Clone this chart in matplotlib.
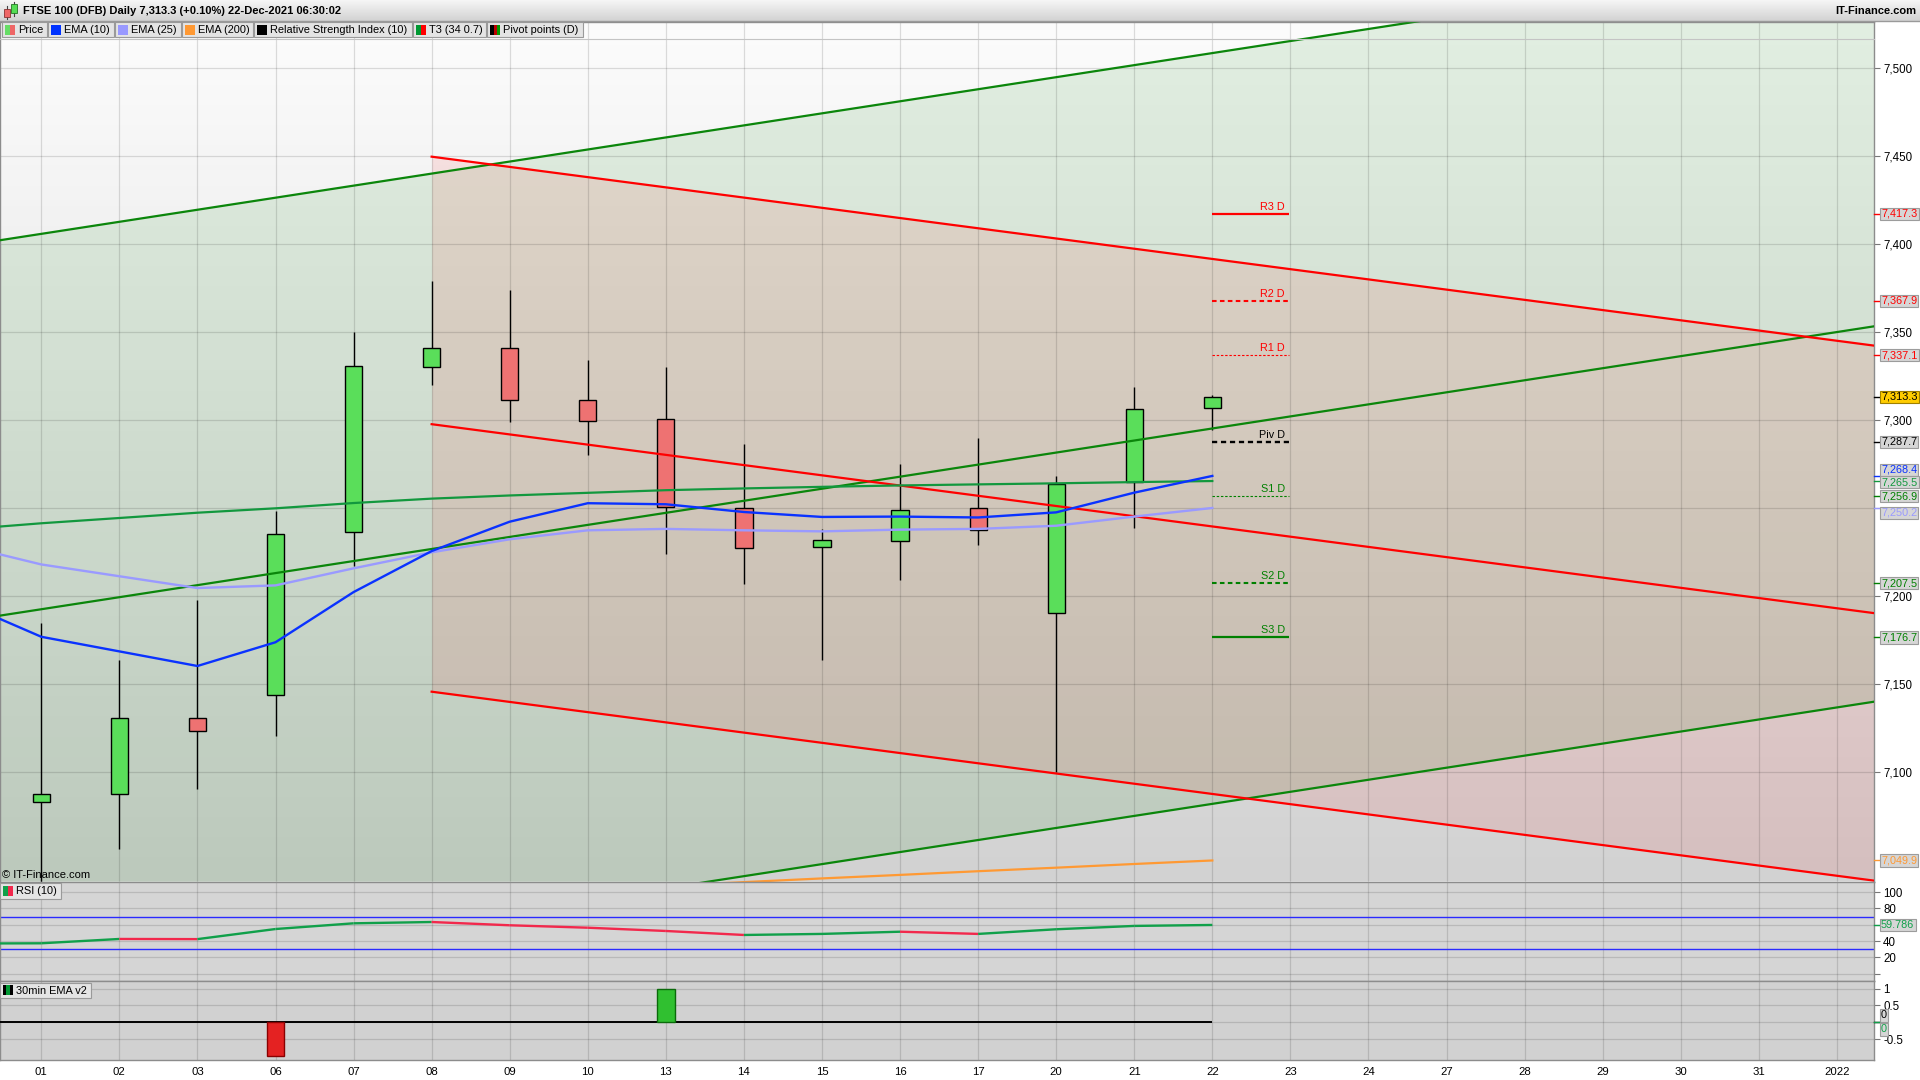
import numpy as np
import matplotlib
matplotlib.use('Agg')
import matplotlib.pyplot as plt
from matplotlib.collections import LineCollection
from matplotlib.patches import Rectangle
from matplotlib.colors import LinearSegmentedColormap

plt.rcParams['font.family'] = ['Liberation Sans', 'DejaVu Sans']

# ---------------- data ----------------
session_labels = ['01', '02', '03', '06', '07', '08', '09', '10', '13', '14',
                  '15', '16', '17', '20', '21', '22']
future_labels = ['23', '24', '27', '28', '29', '30', '31', '2022']

opens = [7083.2, 7087.4, 7130.8, 7143.8, 7236.6, 7330.3, 7341.1, 7311.4,
         7300.7, 7250.1, 7227.9, 7231.3, 7250.0, 7190.4, 7265.0, 7306.8]
highs = [7184.9, 7163.8, 7198.0, 7248.5, 7350.0, 7379.2, 7374.2, 7334.4,
         7330.3, 7286.6, 7238.3, 7275.3, 7290.0, 7268.4, 7318.8, 7314.4]
lows = [7030.0, 7056.2, 7090.6, 7120.4, 7217.5, 7320.3, 7299.2, 7280.5,
        7224.3, 7207.2, 7163.6, 7209.5, 7228.9, 7100.0, 7238.6, 7294.5]
closes = [7087.4, 7130.8, 7123.4, 7235.4, 7330.7, 7341.1, 7311.4, 7299.4,
          7250.7, 7227.3, 7231.8, 7248.9, 7237.5, 7263.9, 7306.3, 7313.3]

# indicator series start one session earlier (30 Nov)
ema10 = [7196.2, 7177.0, 7168.7, 7160.4, 7173.9, 7202.4, 7225.7, 7242.4, 7252.9,
         7252.3, 7247.9, 7245.1, 7245.3, 7244.8, 7247.7, 7258.9, 7268.4]
ema25 = [7228.9, 7218.1, 7211.4, 7204.7, 7206.2, 7215.9, 7225.0, 7232.4, 7237.5,
         7238.3, 7237.5, 7236.9, 7237.9, 7238.3, 7240.1, 7245.3, 7250.2]
t3 = [7238.0, 7241.5, 7244.5, 7247.5, 7250.0, 7253.0, 7255.5, 7257.3, 7258.8,
      7260.3, 7261.3, 7262.2, 7263.0, 7263.6, 7264.2, 7264.9, 7265.5]
rsi = [37.0, 37.3, 42.6, 42.4, 54.8, 61.8, 63.4, 59.4, 56.4, 52.4, 47.5, 48.8,
       51.5, 48.8, 54.5, 58.6, 59.786]
ema200 = [7019.5, 7021.5, 7023.5, 7025.5, 7027.5, 7029.5, 7031.5, 7033.5,
          7035.6, 7037.6, 7039.7, 7041.7, 7043.8, 7045.8, 7047.9, 7049.9]
ema_v2 = [0, 0, 0, -1, 0, 0, 0, 0, 1, 0, 0, 0, 0, 0, 0, 0]

pivot_names = ['R3 D', 'R2 D', 'R1 D', 'Piv D', 'S1 D', 'S2 D', 'S3 D']
pivot_values = [7417.3, 7367.9, 7337.1, 7287.7, 7256.9, 7207.5, 7176.7]

# trend channels (value at start / end session index)
green_x = [-1, 24]
green_upper = [7399.1, 7570.3]
green_mid = [7185.8, 7357.0]
green_lower = [6972.5, 7143.7]
red_x = [5, 24]
red_upper = [7449.8, 7339.4]
red_mid = [7297.8, 7187.4]
red_lower = [7145.8, 7035.4]

rsi_levels = [70, 30]

# ---------------- layout ----------------
W, H = 1920.0, 1080.0
fig = plt.figure(figsize=(19.2, 10.8), dpi=100, facecolor='white')


def rect(x0, y0, x1, y1):
    return [x0 / W, 1 - y1 / H, (x1 - x0) / W, (y1 - y0) / H]


PLOT_R = 1873.5
ax = fig.add_axes(rect(0, 21.7, PLOT_R, 881.5))
ax_rsi = fig.add_axes(rect(0, 881.5, PLOT_R, 980.7))
ax_ema = fig.add_axes(rect(0, 980.7, PLOT_R, 1060.3))

XMIN, XMAX = -0.529, 23.469
MAIN_Y = (7037.95, 7526.5)
RSI_Y = (-8.6, 113.1)
EMA_Y = (-1.128, 1.234)

x_s = np.arange(len(session_labels))
x_ind = np.arange(-1, len(session_labels))
all_labels = session_labels + future_labels
x_all = np.arange(len(all_labels))

GRID = dict(color='black', alpha=0.13, lw=0.9)
TICK_FS = 8.3

# ---------------- main panel ----------------
grad = np.linspace(0, 1, 256).reshape(-1, 1)
bg_cmap = LinearSegmentedColormap.from_list('bg', ['#d2d2d2', '#fcfcfc'])
ax.imshow(grad, extent=[XMIN, XMAX, MAIN_Y[0], MAIN_Y[1]], origin='lower',
          aspect='auto', cmap=bg_cmap, zorder=0)

ax.fill_between(green_x, green_lower, green_upper, color='#008000', alpha=0.10,
                lw=0, zorder=0.6)
ax.fill_between(red_x, red_lower, red_upper, color='#ff0000', alpha=0.085,
                lw=0, zorder=0.7)

o = np.array(opens)
c = np.array(closes)
body_col = ['#5ade5a' if cc >= oo else '#ee7272' for oo, cc in zip(o, c)]
ax.vlines(x_s, lows, highs, color='black', lw=1.0, zorder=2.4)
ax.bar(x_s, np.abs(c - o), bottom=np.minimum(o, c), width=0.22,
       color=body_col, edgecolor='black', lw=1.0, zorder=2.5)

for ys in (green_upper, green_mid, green_lower):
    ax.plot(green_x, ys, color='#0b860b', lw=1.6, zorder=3)
for ys in (red_upper, red_mid, red_lower):
    ax.plot(red_x, ys, color='#ff0000', lw=1.6, zorder=3)

ax.plot(x_s, ema200, color='#ff9933', lw=1.6, zorder=3.5)
ax.plot(x_ind, t3, color='#12983e', lw=1.6, zorder=3.6)
ax.plot(x_ind, ema25, color='#9a9aff', lw=1.7, zorder=3.7)
ax.plot(x_ind, ema10, color='#0a32ff', lw=1.7, zorder=3.8)

piv_styles = [('-', 1.6, '#ff0000'), ((0, (2.2, 1.6)), 1.5, '#ff0000'),
              ((0, (2.2, 1.6)), 0.8, '#ff0000'), ((0, (2.2, 1.6)), 1.7, 'black'),
              ((0, (2.2, 1.6)), 0.8, '#008000'), ((0, (2.2, 1.6)), 1.5, '#008000'),
              ('-', 1.6, '#008000')]
last = x_s[-1]
for name, val, (ls, lw, col) in zip(pivot_names, pivot_values, piv_styles):
    ax.hlines(val, last, last + 0.98, colors=col, linestyles=ls, lw=lw, zorder=4)
    ax.annotate(name, (last + 0.93, val), xytext=(0, 1.5), textcoords='offset points',
                ha='right', va='bottom', fontsize=7.8, color=col, zorder=5)

ax.set_xlim(XMIN, XMAX)
ax.set_ylim(*MAIN_Y)
main_ticks = [7100, 7150, 7200, 7250, 7300, 7350, 7400, 7450, 7500]
# the 7,250 tick label sits behind the EMA(25) value box in the original
ax.set_yticks(main_ticks)
ax.set_yticklabels(['' if v == 7250 else f'{v:,}' for v in main_ticks])
ax.get_yticklabels()[-1].set_fontweight('bold')

# ---------------- RSI panel ----------------
ax_rsi.set_facecolor('#d5d5d5')
pts = np.column_stack([x_ind, rsi])
segs = np.stack([pts[:-1], pts[1:]], axis=1)
seg_cols = ['#10a04a' if b >= a else '#f2284c' for a, b in zip(rsi[:-1], rsi[1:])]
ax_rsi.add_collection(LineCollection(segs, colors=seg_cols, lw=1.7, zorder=3))
for lv in rsi_levels:
    ax_rsi.axhline(lv, color='#2a2aff', lw=1.0, zorder=2)
ax_rsi.set_xlim(XMIN, XMAX)
ax_rsi.set_ylim(*RSI_Y)
ax_rsi.set_yticks([0, 20, 40, 60, 80, 100])
ax_rsi.set_yticklabels(['', '20', '40', '', '80', '100'])
ax_rsi.get_yticklabels()[-1].set_fontweight('bold')

# ---------------- 30min EMA v2 panel ----------------
ax_ema.set_facecolor('#d1d1d1')
v2 = np.array(ema_v2, dtype=float)
nz = v2 != 0
ax_ema.bar(x_s[nz], v2[nz], width=0.23,
           color=['#30c030' if v > 0 else '#e42222' for v in v2[nz]],
           edgecolor=['#0a6a0a' if v > 0 else '#8a0000' for v in v2[nz]],
           lw=1.0, zorder=3)
ax_ema.hlines(0, -1, last, color='black', lw=1.4, zorder=2.8)
ax_ema.set_xlim(XMIN, XMAX)
ax_ema.set_ylim(*EMA_Y)
ax_ema.set_yticks([-0.5, 0, 0.5, 1])
ax_ema.set_yticklabels(['-0.5', '', '0.5', '1'])

# ---------------- common axis styling ----------------
for a in (ax, ax_rsi, ax_ema):
    a.set_xticks(x_all)
    a.grid(True, **GRID)
    a.yaxis.tick_right()
    a.tick_params(axis='y', length=4, width=0.8, color='#777777', labelsize=TICK_FS,
                  pad=3, labelcolor='black')
    a.tick_params(axis='x', length=0, labelbottom=False)
    for sp in a.spines.values():
        sp.set_color('#8c8c8c')
        sp.set_linewidth(1.0)
ax_ema.set_xticklabels(all_labels)
ax_ema.tick_params(axis='x', labelbottom=True, pad=4.5, labelsize=8.2)

# ---------------- overlay (header, legends, value boxes) ----------------
ov = fig.add_axes([0, 0, 1, 1], zorder=20)
ov.patch.set_alpha(0)
ov.axis('off')

hdr_cmap = LinearSegmentedColormap.from_list('hdr', ['#f6f6f6', '#d2d2d2'])
ov.imshow(np.linspace(0, 1, 64).reshape(-1, 1), extent=[0, W, 20.7, 0],
          aspect='auto', cmap=hdr_cmap, zorder=1)
ov.plot([0, W], [20.7, 20.7], color='#9a9a9a', lw=1, zorder=2)
ov.plot([0, PLOT_R], [39, 39], color='#c4c4c4', lw=0.8, zorder=1.5)

# header icon
ov.plot([6.5, 6.5], [6, 19], color='#444444', lw=0.8, zorder=3)
ov.add_patch(Rectangle((3.5, 9), 6, 8, fc='#ee6666', ec='#883333', lw=0.6, zorder=4))
ov.plot([13.5, 13.5], [2, 16], color='#444444', lw=0.8, zorder=3)
ov.add_patch(Rectangle((10.5, 4), 6, 9, fc='#55dd55', ec='#227722', lw=0.6, zorder=4))

ov.text(23, 10.8, 'FTSE 100 (DFB) Daily 7,313.3 (+0.10%) 22-Dec-2021 06:30:02',
        fontsize=8.0, fontweight='bold', va='center', ha='left', zorder=5)
ov.text(1916, 10.8, 'IT-Finance.com', fontsize=8.0, fontweight='bold',
        va='center', ha='right', zorder=5)

renderer = fig.canvas.get_renderer()


def legend_box(x, y0, y1, label, swatch, fs=7.9):
    t = ov.text(x + 16, (y0 + y1) / 2 + 0.5, label, fontsize=fs, va='center',
                ha='left', zorder=7)
    bb = t.get_window_extent(renderer=renderer)
    right = x + 16 + bb.width + 4
    ov.add_patch(Rectangle((x, y0), right - x, y1 - y0, fc='#e4e4e4', ec='#9a9a9a',
                           lw=0.8, zorder=6))
    sw = 10.0 / len(swatch)
    for i, col in enumerate(swatch):
        ov.add_patch(Rectangle((x + 3 + i * sw, (y0 + y1) / 2 - 5), sw, 10,
                               fc=col, ec='none', zorder=7))
    return right


legend_items = [('Price', ['#66dd66', '#ee6666']), ('EMA (10)', ['#0033ff']),
                ('EMA (25)', ['#9999ff']), ('EMA (200)', ['#ff9933']),
                ('Relative Strength Index (10)', ['#000000']),
                ('T3 (34 0.7)', ['#009933', '#ff0000']),
                ('Pivot points (D)', ['#000000', '#bb0000', '#009900'])]
xc = 2
for lab, sw in legend_items:
    xc = legend_box(xc, 22.3, 37.3, lab, sw) + 1

legend_box(0, 882.5, 898.5, 'RSI (10)', ['#10a04a', '#f2284c'])
legend_box(0, 982.5, 997.5, '30min EMA v2', ['#000000', '#009933', '#000000'])

ov.text(2, 875, '\u00a9 IT-Finance.com', fontsize=8.0, va='center', ha='left', zorder=5)


def py(a, v):
    return H - a.transData.transform((0, v))[1]


def value_box(a, v, text, col, fc='#d6d6d6', ec='#9c9c9c', dy=0.0, z=8):
    y = py(a, v) + dy
    ov.plot([PLOT_R, PLOT_R + 5], [py(a, v), py(a, v)], color=col, lw=1, zorder=z)
    ov.text(1881, y, text, fontsize=7.8, color=col, va='center', ha='left', zorder=z,
            bbox=dict(boxstyle='square,pad=0.12', fc=fc, ec=ec, lw=0.8))


# (value, colour, small vertical nudge in px so stacked boxes stay readable)
price_boxes = [(pivot_values[0], '#ff0000', 0), (pivot_values[1], '#ff0000', 0),
               (pivot_values[2], '#ff0000', 0), (closes[-1], 'black', 0),
               (pivot_values[3], 'black', 0), (ema10[-1], '#0a32ff', -6),
               (t3[-1], '#12983e', 1), (pivot_values[4], '#008000', 0),
               (ema25[-1], '#9a9aff', 5), (pivot_values[5], '#008000', 0),
               (pivot_values[6], '#008000', 0), (ema200[-1], '#ff9933', 0)]
for i, (v, col, dy) in enumerate(price_boxes):
    if v == closes[-1]:
        value_box(ax, v, f'{v:,.1f}', 'black', fc='#ffcc00', ec='#a08000', dy=dy,
                  z=8 + i * 0.01)
    else:
        value_box(ax, v, f'{v:,.1f}', col, dy=dy, z=8 + i * 0.01)

value_box(ax_rsi, rsi[-1], f'{rsi[-1]:.3f}', '#10a04a')
value_box(ax_ema, ema_v2[-1], f'{ema_v2[-1]}', 'black', dy=-7)
value_box(ax_ema, ema_v2[-1], f'{ema_v2[-1]}', '#10a04a', dy=7, z=8.5)

ov.set_xlim(0, W)
ov.set_ylim(H, 0)

fig.savefig('out.png', dpi=100, facecolor='white')
